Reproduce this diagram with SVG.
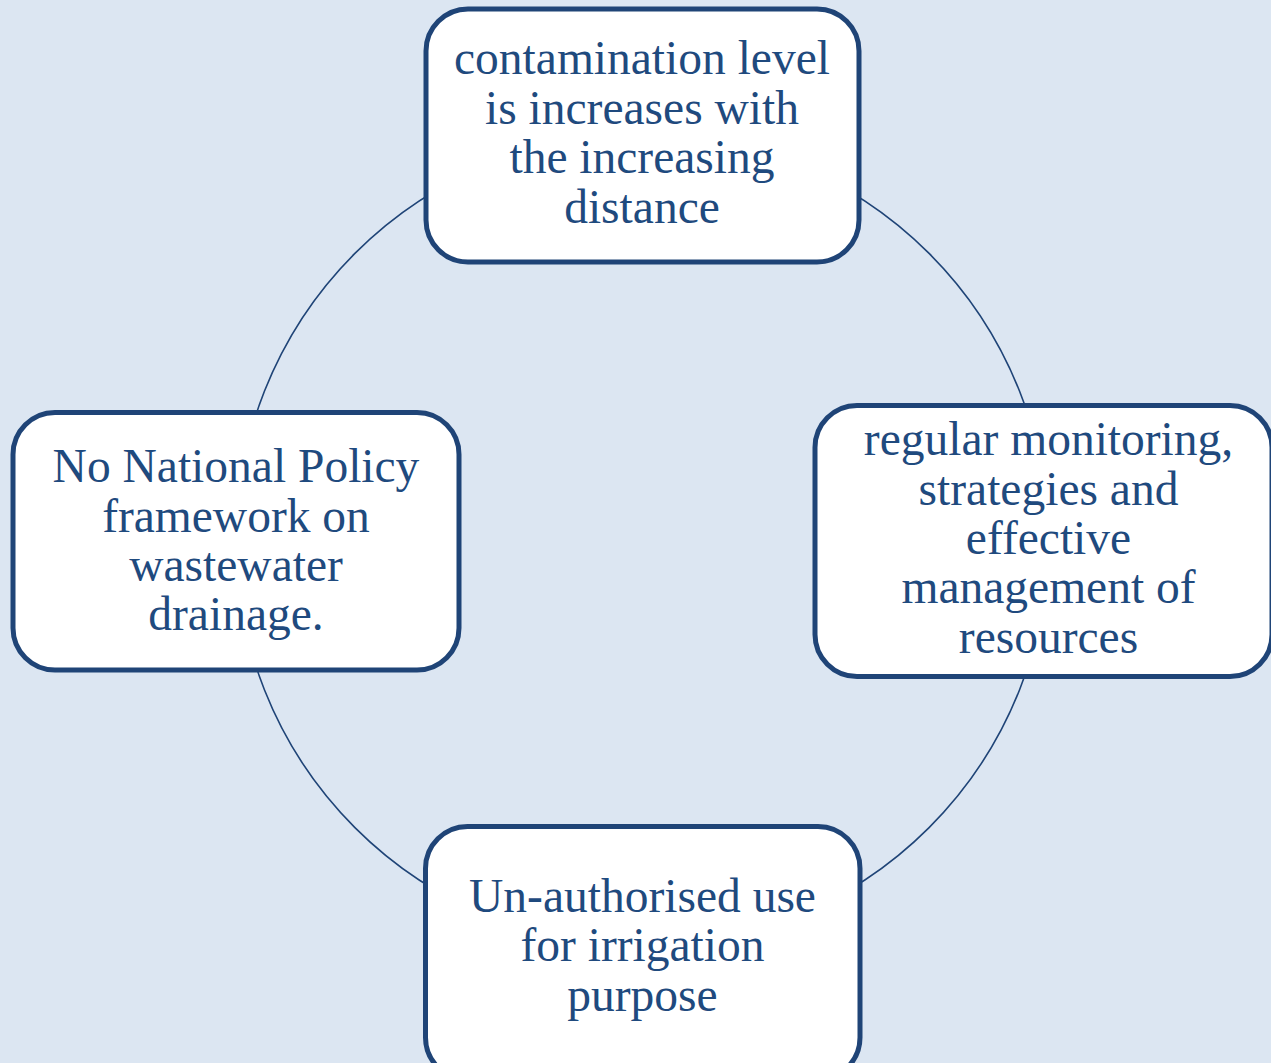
<svg xmlns="http://www.w3.org/2000/svg" width="1271" height="1063" viewBox="0 0 1271 1063">
<style>
.box{fill:#ffffff;stroke:#1f4477;stroke-width:5}
.conn{fill:none;stroke:#1f4477;stroke-width:1.6}
.t{font-family:"Liberation Serif","Times New Roman",serif;font-size:47.5px;fill:#1f4a7e;text-anchor:middle}
</style>
<rect x="0" y="0" width="1271" height="1063" fill="#dce6f2"/>
<g id="connectors">
<circle class="conn" cx="642" cy="540.5" r="406"/>
</g>
<g id="node-top">
<rect class="box" x="426" y="9" width="433" height="253" rx="42" ry="42"/>
<text class="t" x="642" y="74">contamination level</text>
<text class="t" x="642" y="123.5">is increases with</text>
<text class="t" x="642" y="173">the increasing</text>
<text class="t" x="642" y="223">distance</text>
</g>
<g id="node-right">
<rect class="box" x="815" y="405.5" width="457" height="271" rx="42" ry="42"/>
<text class="t" x="1048.5" y="455">regular monitoring,</text>
<text class="t" x="1048.5" y="505">strategies and</text>
<text class="t" x="1048.5" y="554">effective</text>
<text class="t" x="1048.5" y="603">management of</text>
<text class="t" x="1048.5" y="653">resources</text>
</g>
<g id="node-left">
<rect class="box" x="13" y="412.5" width="446" height="257.5" rx="42" ry="42"/>
<text class="t" x="236" y="481.5">No National Policy</text>
<text class="t" x="236" y="531.5">framework on</text>
<text class="t" x="236" y="580.5">wastewater</text>
<text class="t" x="236" y="630">drainage.</text>
</g>
<g id="node-bottom">
<rect class="box" x="425.5" y="826.5" width="434.5" height="253" rx="42" ry="42"/>
<text class="t" x="642.5" y="911.5">Un-authorised use</text>
<text class="t" x="642.5" y="960.5">for irrigation</text>
<text class="t" x="642.5" y="1010.5">purpose</text>
</g>
</svg>
